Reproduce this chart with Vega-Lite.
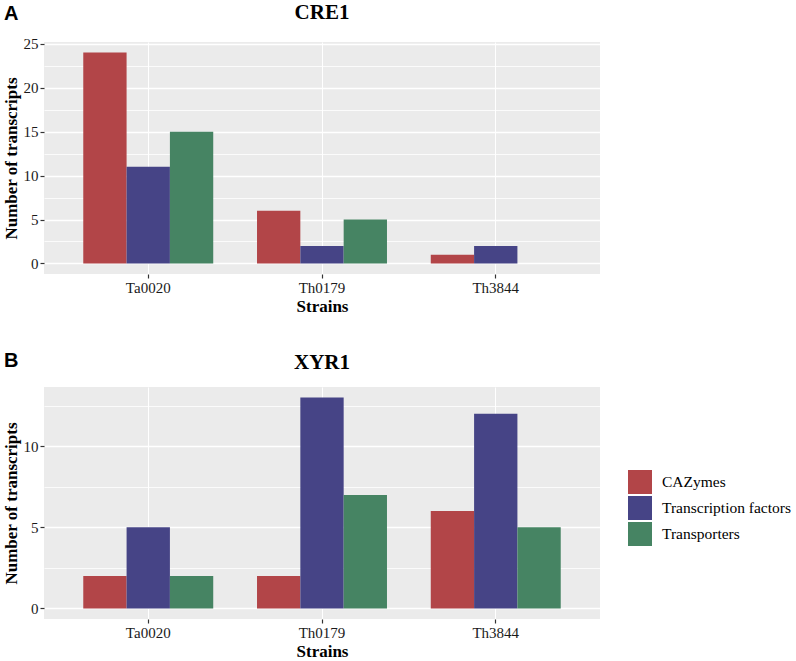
{
  "$schema": "https://vega.github.io/schema/vega-lite/v6.json",
  "padding": {"left": 2, "top": 1, "right": 0, "bottom": 0},
  "data": {
    "values": [
      {"gene": "CRE1", "strain": "Ta0020", "category": "CAZymes", "count": 24},
      {"gene": "CRE1", "strain": "Ta0020", "category": "Transcription factors", "count": 11},
      {"gene": "CRE1", "strain": "Ta0020", "category": "Transporters", "count": 15},
      {"gene": "CRE1", "strain": "Th0179", "category": "CAZymes", "count": 6},
      {"gene": "CRE1", "strain": "Th0179", "category": "Transcription factors", "count": 2},
      {"gene": "CRE1", "strain": "Th0179", "category": "Transporters", "count": 5},
      {"gene": "CRE1", "strain": "Th3844", "category": "CAZymes", "count": 1},
      {"gene": "CRE1", "strain": "Th3844", "category": "Transcription factors", "count": 2},
      {"gene": "CRE1", "strain": "Th3844", "category": "Transporters", "count": 0},
      {"gene": "XYR1", "strain": "Ta0020", "category": "CAZymes", "count": 2},
      {"gene": "XYR1", "strain": "Ta0020", "category": "Transcription factors", "count": 5},
      {"gene": "XYR1", "strain": "Ta0020", "category": "Transporters", "count": 2},
      {"gene": "XYR1", "strain": "Th0179", "category": "CAZymes", "count": 2},
      {"gene": "XYR1", "strain": "Th0179", "category": "Transcription factors", "count": 13},
      {"gene": "XYR1", "strain": "Th0179", "category": "Transporters", "count": 7},
      {"gene": "XYR1", "strain": "Th3844", "category": "CAZymes", "count": 6},
      {"gene": "XYR1", "strain": "Th3844", "category": "Transcription factors", "count": 12},
      {"gene": "XYR1", "strain": "Th3844", "category": "Transporters", "count": 5}
    ]
  },
  "spacing": 37,
  "vconcat": [
    {
      "title": {"text": "A", "anchor": "start", "frame": "bounds", "offset": -22, "dx": 2, "font": "Liberation Sans", "fontSize": 20},
      "vconcat": [
        {
          "title": "CRE1",
          "width": 556,
          "height": 232,
          "transform": [{"filter": "datum.gene == 'CRE1'"}],
          "mark": "bar",
          "encoding": {
            "x": {
              "field": "strain",
              "type": "nominal",
              "title": "Strains",
              "scale": {"paddingInner": 0.252, "paddingOuter": 0.226},
              "axis": {"labelAngle": 0, "grid": true, "bandPosition": 0.5, "labelFont": "Liberation Serif"}
            },
            "xOffset": {"field": "category", "sort": ["CAZymes", "Transcription factors", "Transporters"]},
            "y": {
              "field": "count",
              "type": "quantitative",
              "title": "Number of transcripts",
              "scale": {"domain": [-1.2, 25.2], "nice": false},
              "axis": {
                "values": [0, 2.5, 5, 7.5, 10, 12.5, 15, 17.5, 20, 22.5, 25],
                "labelFont": "Liberation Serif",
                "labelExpr": "datum.value % 5 === 0 ? datum.label : ''",
                "tickOpacity": {"condition": {"test": "datum.value % 5 !== 0", "value": 0}, "value": 1},
                "gridWidth": {"condition": {"test": "datum.value % 5 !== 0", "value": 0.8}, "value": 1.6}
              }
            },
            "y2": {"datum": 0},
            "color": {
              "field": "category",
              "type": "nominal",
              "scale": {"domain": ["CAZymes", "Transcription factors", "Transporters"], "range": ["#B24548", "#464486", "#468463"]},
              "legend": {"title": null, "orient": "none", "legendX": 584, "legendY": 428}
            }
          }
        }
      ]
    },
    {
      "title": {"text": "B", "anchor": "start", "frame": "bounds", "offset": -19, "dx": 2, "font": "Liberation Sans", "fontSize": 20},
      "vconcat": [
        {
          "title": "XYR1",
          "width": 556,
          "height": 232,
          "transform": [{"filter": "datum.gene == 'XYR1'"}],
          "mark": "bar",
          "encoding": {
            "x": {
              "field": "strain",
              "type": "nominal",
              "title": "Strains",
              "scale": {"paddingInner": 0.252, "paddingOuter": 0.226},
              "axis": {"labelAngle": 0, "grid": true, "bandPosition": 0.5, "labelFont": "Liberation Serif"}
            },
            "xOffset": {"field": "category", "sort": ["CAZymes", "Transcription factors", "Transporters"]},
            "y": {
              "field": "count",
              "type": "quantitative",
              "title": "Number of transcripts",
              "scale": {"domain": [-0.65, 13.65], "nice": false},
              "axis": {
                "values": [0, 2.5, 5, 7.5, 10, 12.5],
                "labelFont": "Liberation Serif",
                "labelExpr": "datum.value % 5 === 0 ? datum.label : ''",
                "tickOpacity": {"condition": {"test": "datum.value % 5 !== 0", "value": 0}, "value": 1},
                "gridWidth": {"condition": {"test": "datum.value % 5 !== 0", "value": 0.8}, "value": 1.6}
              }
            },
            "y2": {"datum": 0},
            "color": {
              "field": "category",
              "type": "nominal",
              "scale": {"domain": ["CAZymes", "Transcription factors", "Transporters"], "range": ["#B24548", "#464486", "#468463"]},
              "legend": {"title": null, "orient": "none", "legendX": 584, "legendY": 428}
            }
          }
        }
      ]
    }
  ],
  "resolve": {"scale": {"y": "independent"}},
  "config": {
    "view": {"fill": "#EBEBEB", "stroke": null},
    "style": {"guide-label": {"font": "Liberation Serif"}},
    "axis": {
      "domain": false,
      "gridColor": "#FFFFFF",
      "tickColor": "#333333",
      "tickSize": 4,
      "tickWidth": 1.2,
      "labelFont": "Liberation Serif",
      "labelFontSize": 15,
      "labelColor": "#1A1A1A",
      "labelPadding": 2,
      "titleFont": "Liberation Serif",
      "titleFontSize": 17,
      "titleFontWeight": "bold",
      "titleColor": "#000000",
      "titlePadding": 3
    },
    "title": {
      "font": "Liberation Serif",
      "fontSize": 21,
      "fontWeight": "bold",
      "color": "#000000",
      "offset": 14
    },
    "legend": {
      "labelFont": "Liberation Serif",
      "labelFontSize": 15.5,
      "labelColor": "#000000",
      "labelLimit": 300,
      "symbolType": "square",
      "symbolSize": 576,
      "symbolStrokeWidth": 0,
      "symbolOpacity": 1,
      "rowPadding": 2,
      "labelOffset": 10
    }
  }
}
